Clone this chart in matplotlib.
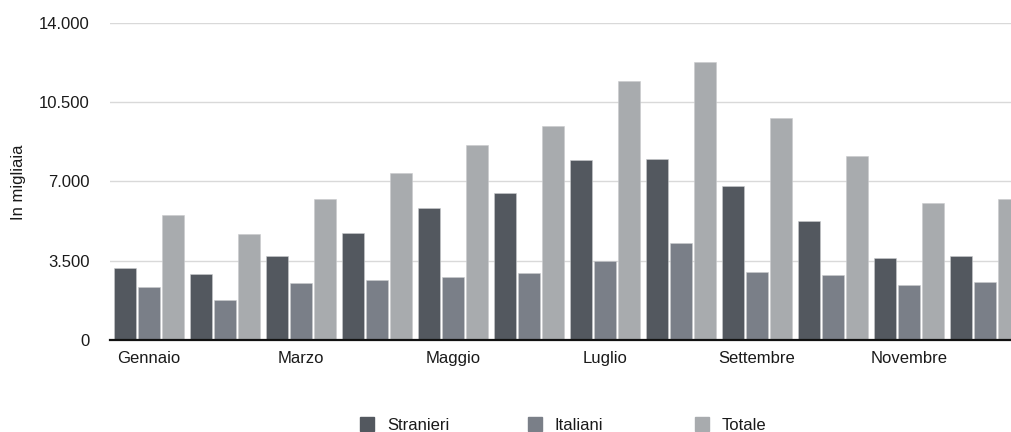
import numpy as np
import matplotlib
matplotlib.use("Agg")
import matplotlib.pyplot as plt
from matplotlib.ticker import FuncFormatter
from matplotlib.patches import Rectangle

# ── Data (thousands) ──────────────────────────────────
mesi = ["Gennaio", "Febbraio", "Marzo", "Aprile", "Maggio", "Giugno",
        "Luglio", "Agosto", "Settembre", "Ottobre", "Novembre", "Dicembre"]
stranieri = [3180, 2920, 3710, 4730, 5830, 6480, 7970, 8000, 6800, 5240, 3610, 3710]
italiani = [2330, 1750, 2520, 2640, 2780, 2970, 3480, 4270, 3000, 2860, 2430, 2550]
totale = [5520, 4670, 6230, 7360, 8600, 9450, 11440, 12270, 9810, 8110, 6050, 6240]

series = ["Stranieri", "Italiani", "Totale"]
colors = ["#53585f", "#7a7f88", "#a8abae"]

plt.rcParams["font.family"] = ["Liberation Sans", "DejaVu Sans"]
FS = 12

W, H = 1012, 432
fig = plt.figure(figsize=(W / 100, H / 100), dpi=100)
ax = fig.add_axes([110 / W, (H - 340) / H, 1 - 110 / W, (340 - 23) / H])

x = np.arange(len(mesi))
bw = 22 / 76
step = 24 / 76
for k, (vals, col) in enumerate(zip([stranieri, italiani, totale], colors)):
    ax.bar(x + (k - 1) * step, vals, width=bw, color=col,
           edgecolor="#c9cbcd", linewidth=0.4, zorder=3)

ax.set_xlim(-39 / 76, (1012 - 149) / 76)
ax.set_ylim(0, 14000)
ax.set_yticks([0, 3500, 7000, 10500, 14000])
ax.yaxis.set_major_formatter(
    FuncFormatter(lambda v, p: f"{int(v):,}".replace(",", "."))
)
ax.grid(axis="y", color="#d9d9d9", linewidth=1, zorder=0)
ax.set_axisbelow(True)

ax.set_xticks(x[::2])
ax.set_xticklabels(mesi[::2])
ax.tick_params(axis="both", length=0, labelsize=FS, colors="#1a1a1a")
ax.tick_params(axis="y", pad=14.5)
ax.tick_params(axis="x", pad=8)

for s in ["top", "right", "left"]:
    ax.spines[s].set_visible(False)
ax.spines["bottom"].set_color("#111111")
ax.spines["bottom"].set_linewidth(1.6)
ax.spines["bottom"].set_zorder(4)

fig.text(19 / W, 1 - 182 / H, "In migliaia", rotation=90,
         ha="center", va="center", fontsize=FS, color="#1a1a1a")

# ── Legend ────────────────────────────────────────────
leg_x = [360, 528, 695]
for lx, name, col in zip(leg_x, series, colors):
    fig.patches.append(Rectangle((lx / W, (H - 431) / H), 14 / W, 14 / H,
                                 transform=fig.transFigure, color=col))
    fig.text((lx + 27) / W, 1 - 425 / H, name, ha="left", va="center",
             fontsize=FS, color="#1a1a1a")

plt.savefig("out.png", dpi=100)
